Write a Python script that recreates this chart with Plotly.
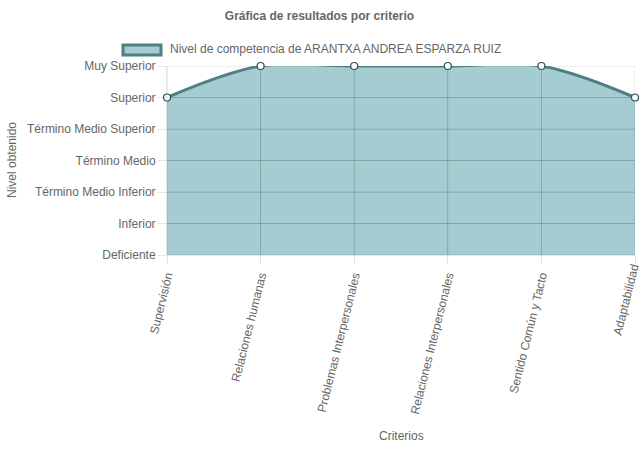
import plotly.graph_objects as go

criterios = ["Supervisión", "Relaciones humanas", "Problemas Interpersonales",
             "Relaciones Interpersonales", "Sentido Común y Tacto", "Adaptabilidad"]
valores = [5, 6, 6, 6, 6, 5]
niveles = ["Deficiente", "Inferior", "Término Medio Inferior", "Término Medio",
           "Término Medio Superior", "Superior", "Muy Superior"]
serie = "Nivel de competencia de ARANTXA ANDREA ESPARZA RUIZ"

LINE = "#4e7f84"
FILL = "rgba(75,156,163,0.5)"
xs = list(range(len(criterios)))
spline = dict(shape="spline", smoothing=1.0)

fig = go.Figure()
# filled area
fig.add_trace(go.Scatter(
    x=xs, y=valores, mode="lines", fill="tozeroy", fillcolor=FILL,
    line=dict(color="rgba(0,0,0,0)", width=0, **spline),
    showlegend=False, hoverinfo="skip",
))
# grid lines drawn over the fill
gx, gy = [], []
for i in range(len(niveles)):
    gx += [xs[0], xs[-1], None]
    gy += [i, i, None]
for x in xs:
    gx += [x, x, None]
    gy += [0, len(niveles) - 1, None]
fig.add_trace(go.Scatter(
    x=gx, y=gy, mode="lines", line=dict(color="rgba(0,0,0,0.13)", width=1),
    showlegend=False, hoverinfo="skip",
))
# line + points
fig.add_trace(go.Scatter(
    x=xs, y=valores, name=serie, mode="lines+markers",
    line=dict(color=LINE, width=3, **spline),
    marker=dict(size=7, color="white", line=dict(color="#2f4f52", width=1.2)),
    cliponaxis=False, showlegend=False,
))

font = dict(family="Liberation Sans, Arial, sans-serif", size=12, color="#666")
grid = "rgba(0,0,0,0.1)"
# last category label drawn as annotation so it stays inside the window
ticktext = criterios[:-1] + [""]
fig.update_layout(
    width=639, height=449,
    margin=dict(l=167, r=4, t=66, b=194),
    paper_bgcolor="white", plot_bgcolor="white",
    font=font, showlegend=False,
    title=dict(text="<b>Gráfica de resultados por criterio</b>", x=0.5, xref="container",
               xanchor="center", y=1 - 16 / 449, yref="container", yanchor="middle",
               font=font),
    xaxis=dict(
        range=[0, 5], tickmode="array", tickvals=xs,
        ticktext=ticktext, tickangle=-76, showgrid=True, gridcolor=grid,
        ticks="outside", ticklen=8, tickcolor=grid, zeroline=False,
        showline=True, linecolor=grid, automargin=False,
        ticklabeloverflow="allow",
    ),
    yaxis=dict(
        range=[0, 6], tickmode="array", tickvals=list(range(len(niveles))),
        ticktext=niveles, showgrid=True, gridcolor=grid,
        ticks="outside", ticklen=8, tickcolor=grid, zeroline=False,
        showline=True, linecolor=grid, automargin=False,
        ticklabeloverflow="allow",
    ),
    shapes=[dict(type="rect", xref="paper", yref="paper",
                 x0=(123 - 167) / 468, x1=(161 - 167) / 468,
                 y0=(255 - 55) / 189, y1=(255 - 45) / 189,
                 fillcolor=FILL, line=dict(color=LINE, width=3))],
    annotations=[
        dict(text=serie, xref="paper", yref="paper", x=(168 - 167) / 468,
             y=(255 - 49) / 189, xanchor="left", yanchor="middle",
             showarrow=False, font=font),
        dict(text="Nivel obtenido", xref="paper", yref="paper",
             x=(12 - 167) / 468, y=(255 - 160) / 189, textangle=-90,
             xanchor="center", yanchor="middle", showarrow=False, font=font),
        dict(text="Criterios", xref="paper", yref="paper",
             x=0.5, y=(255 - 436) / 189, xanchor="center", yanchor="middle",
             showarrow=False, font=font),
        dict(text=criterios[-1], xref="paper", yref="paper",
             x=(626 - 167) / 468, y=(255 - 300) / 189, textangle=-76,
             xanchor="center", yanchor="middle", showarrow=False, font=font),
    ],
)
fig.write_html("out.html", config={"displayModeBar": False},
               post_script="document.body.style.margin='0px';")
